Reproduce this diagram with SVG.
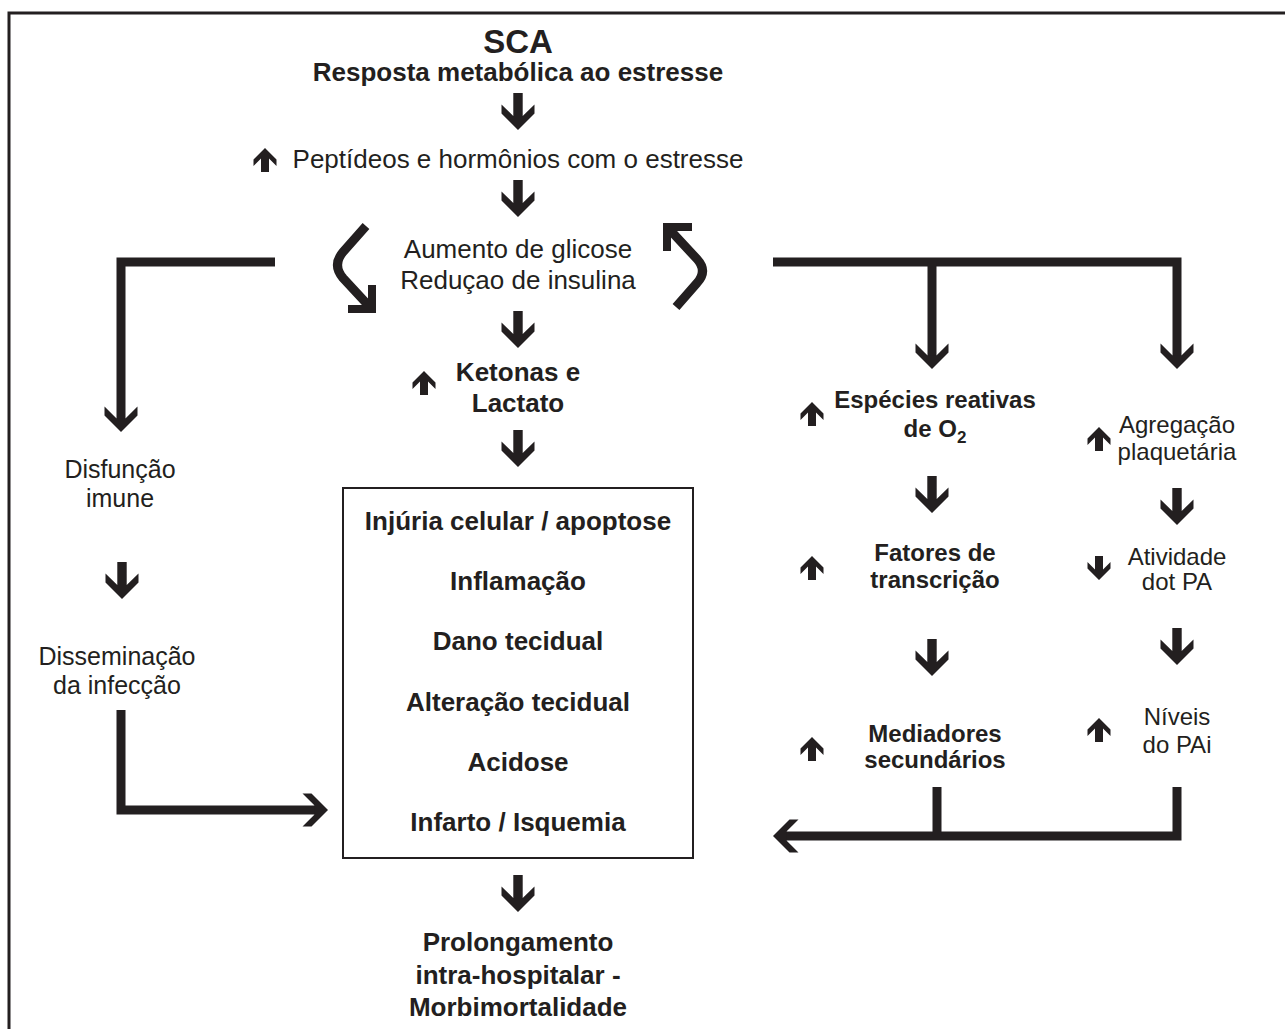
<svg xmlns="http://www.w3.org/2000/svg" xmlns:xlink="http://www.w3.org/1999/xlink" width="1285" height="1029" viewBox="0 0 1285 1029">
<style>
text{font-family:"Liberation Sans",Arial,Helvetica,sans-serif;fill:#231f20;text-anchor:middle}
.b{font-weight:bold;font-size:26px}
.r{font-size:26px}
.sb{font-weight:bold;font-size:24px}
.sr{font-size:24px}
.lr{font-size:25px}
.ar{fill:#231f20}
.ln{fill:none;stroke:#231f20;stroke-width:9;stroke-linejoin:miter}
.cv{fill:none;stroke:#231f20;stroke-width:9}
.ch{fill:none;stroke:#231f20;stroke-width:8;stroke-linejoin:miter;stroke-miterlimit:10}
</style>
<defs>
<polygon id="bigDown" class="ar" points="-4.7,0 4.7,0 4.7,23 16.5,11.5 16.5,20.5 0,37 -16.5,20.5 -16.5,11.5 -4.7,23"/>
<polygon id="smUp" class="ar" points="0,0 11.5,11.5 11.5,18 4,10.5 4,24 -4,24 -4,10.5 -11.5,18 -11.5,11.5"/>
<polygon id="smDown" class="ar" points="0,24 11.5,12.5 11.5,6 4,13.5 4,0 -4,0 -4,13.5 -11.5,6 -11.5,12.5"/>
<marker id="chev" markerUnits="userSpaceOnUse" orient="auto" markerWidth="40" markerHeight="40" refX="0" refY="0" viewBox="-30 -20 40 40" overflow="visible">
<polygon class="ar" points="6,0 -10.5,16.5 -19.5,16.5 -7.7,4.7 -7.7,-4.7 -19.5,-16.5 -10.5,-16.5"/>
</marker>
</defs>
<rect width="1285" height="1029" fill="#fff"/>
<path d="M9,1029 V13 H1285" fill="none" stroke="#231f20" stroke-width="3"/>

<g id="connectors">
<path class="ln" d="M275,262 H121 V426" marker-end="url(#chev)"/>
<path class="ln" d="M773,262 H1177 V363" marker-end="url(#chev)"/>
<path class="ln" d="M932,262 V363" marker-end="url(#chev)"/>
<path class="ln" d="M121,710 V810 H322" marker-end="url(#chev)"/>
<path class="ln" d="M1177,787 V836 H779" marker-end="url(#chev)"/>
<path class="ln" d="M937,787 V836"/>
<use xlink:href="#bigDown" x="518" y="93"/>
<use xlink:href="#bigDown" x="518" y="180"/>
<use xlink:href="#bigDown" x="518" y="311"/>
<use xlink:href="#bigDown" x="518" y="430"/>
<use xlink:href="#bigDown" x="518" y="875"/>
<use xlink:href="#bigDown" x="122" y="562"/>
<use xlink:href="#bigDown" x="932" y="476"/>
<use xlink:href="#bigDown" x="932" y="639"/>
<use xlink:href="#bigDown" x="1177" y="488"/>
<use xlink:href="#bigDown" x="1177" y="628"/>
<path class="cv" d="M366,226 L343,252 Q332,265 343,278 L368,305"/>
<polyline class="ch" points="348,309 372,309 372,285"/>
<path class="cv" d="M671,231 L697,259 Q708,271 697,283 L676,307"/>
<polyline class="ch" points="692,227 667,227 667,251"/>
</g>

<g id="n-sca">
<text x="518" y="53" style="font-weight:bold;font-size:33px">SCA</text>
<text class="b" x="518" y="81">Resposta metabólica ao estresse</text>
</g>
<g id="n-peptideos">
<use xlink:href="#smUp" x="265" y="148"/>
<text class="r" x="518" y="168">Peptídeos e hormônios com o estresse</text>
</g>
<g id="n-glicose">
<text class="r" x="518" y="258">Aumento de glicose</text>
<text class="r" x="518" y="289">Reduçao de insulina</text>
</g>
<g id="n-ketonas">
<use xlink:href="#smUp" x="424" y="371"/>
<text class="b" x="518" y="381">Ketonas e</text>
<text class="b" x="518" y="412">Lactato</text>
</g>
<g id="n-box">
<rect x="343" y="488" width="350" height="370" fill="none" stroke="#231f20" stroke-width="2"/>
<text class="b" x="518" y="530">Injúria celular / apoptose</text>
<text class="b" x="518" y="590">Inflamação</text>
<text class="b" x="518" y="650">Dano tecidual</text>
<text class="b" x="518" y="711">Alteração tecidual</text>
<text class="b" x="518" y="771">Acidose</text>
<text class="b" x="518" y="831">Infarto / Isquemia</text>
</g>
<g id="n-prolongamento">
<text class="b" x="518" y="951">Prolongamento</text>
<text class="b" x="518" y="984">intra-hospitalar -</text>
<text class="b" x="518" y="1016">Morbimortalidade</text>
</g>
<g id="n-disfuncao">
<text class="lr" x="120" y="478">Disfunção</text>
<text class="lr" x="120" y="507">imune</text>
</g>
<g id="n-disseminacao">
<text class="lr" x="117" y="665">Disseminação</text>
<text class="lr" x="117" y="694">da infecção</text>
</g>
<g id="n-especies">
<use xlink:href="#smUp" x="812" y="402"/>
<text class="sb" x="935" y="408">Espécies reativas</text>
<text class="sb" x="935" y="437">de O<tspan dy="6" font-size="17">2</tspan></text>
</g>
<g id="n-agregacao">
<use xlink:href="#smUp" x="1099" y="427"/>
<text class="sr" x="1177" y="433">Agregação</text>
<text class="sr" x="1177" y="460">plaquetária</text>
</g>
<g id="n-fatores">
<use xlink:href="#smUp" x="812" y="556"/>
<text class="sb" x="935" y="561">Fatores de</text>
<text class="sb" x="935" y="588">transcrição</text>
</g>
<g id="n-atividade">
<use xlink:href="#smDown" x="1099" y="556"/>
<text class="sr" x="1177" y="565">Atividade</text>
<text class="sr" x="1177" y="590">dot PA</text>
</g>
<g id="n-mediadores">
<use xlink:href="#smUp" x="812" y="737"/>
<text class="sb" x="935" y="742">Mediadores</text>
<text class="sb" x="935" y="768">secundários</text>
</g>
<g id="n-niveis">
<use xlink:href="#smUp" x="1099" y="718"/>
<text class="sr" x="1177" y="725">Níveis</text>
<text class="sr" x="1177" y="753">do PAi</text>
</g>
</svg>
